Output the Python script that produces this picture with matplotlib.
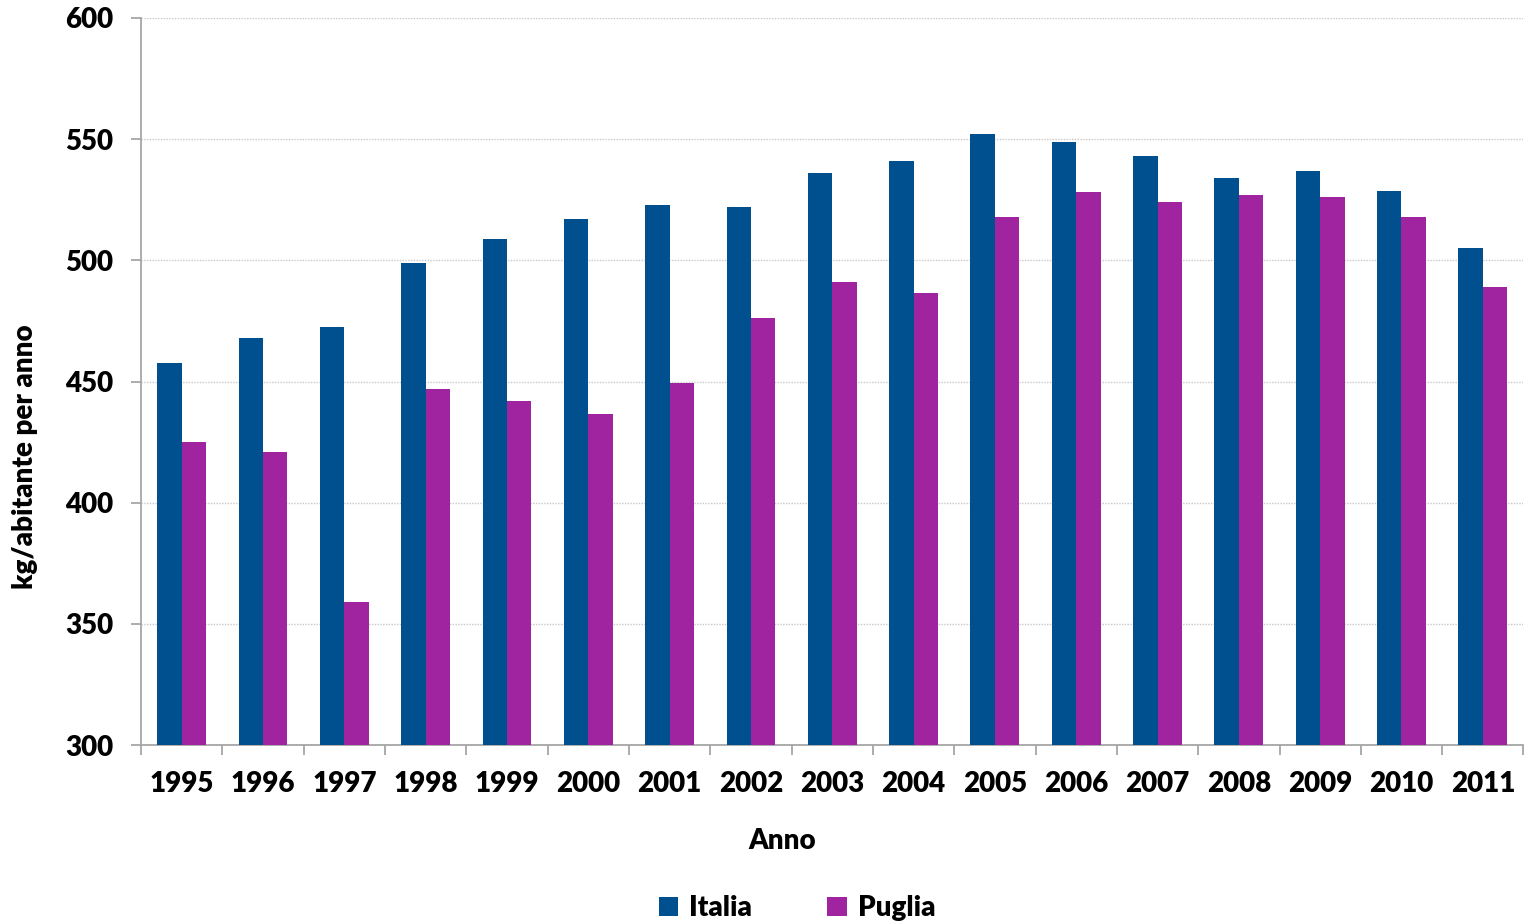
import numpy as np
import matplotlib
matplotlib.use('Agg')
import matplotlib.pyplot as plt
from matplotlib.ticker import FixedLocator

plt.rcParams['font.family'] = ['Lato', 'DejaVu Sans']
plt.rcParams['font.weight'] = 'heavy'

years = ['1995', '1996', '1997', '1998', '1999', '2000', '2001', '2002', '2003',
         '2004', '2005', '2006', '2007', '2008', '2009', '2010', '2011']
italia = [457.5, 468, 472.5, 499, 509, 517, 523, 522, 536,
          541, 552, 549, 543, 534, 537, 528.5, 505]
puglia = [425, 421, 359, 447, 442, 436.5, 449.5, 476, 491,
          486.5, 518, 528, 524, 527, 526, 518, 489]

c_it = '#00508F'
c_pu = '#A023A0'
fw = 'heavy'

fig = plt.figure(figsize=(15.25, 9.24), dpi=100)
ax = fig.add_axes([141/1525, 1 - 745/924, 1 - 141/1525 - 0.001, (745 - 18)/924])

x = np.arange(len(years))
w = 0.3
ax.bar(x - w/2, italia, w, color=c_it, label='Italia', zorder=3)
ax.bar(x + w/2, puglia, w, color=c_pu, label='Puglia', zorder=3)

ax.set_ylim(300, 600)
ax.set_xlim(-0.5, len(years) - 0.5)
ax.set_yticks(np.arange(300, 601, 50))
ax.set_xticks(x)
ax.set_xticklabels(years)
ax.xaxis.set_minor_locator(FixedLocator(np.arange(-0.5, len(years), 1)))
ax.tick_params(axis='x', which='major', length=0, pad=19, labelsize=20)
ax.tick_params(axis='x', which='minor', length=7, width=1.3, color='#A6A6A6')
ax.tick_params(axis='y', length=7, width=1.3, color='#A6A6A6', labelsize=20, pad=13)
for lab in ax.get_xticklabels() + ax.get_yticklabels():
    lab.set_fontweight(fw)

ax.grid(axis='y', color='#C8C8C8', linestyle=(0, (1, 1)), linewidth=1, zorder=0)
for s in ['top', 'right']:
    ax.spines[s].set_visible(False)
for s in ['left', 'bottom']:
    ax.spines[s].set_color('#A6A6A6')
    ax.spines[s].set_linewidth(1.3)

ax.set_xlabel('Anno', fontsize=20, fontweight=fw)
ax.xaxis.set_label_coords((783 - 141) / 1384, -(841 - 745) / 727, transform=ax.transAxes)
ax.xaxis.label.set_va('center')
ax.set_ylabel('kg/abitante per anno', fontsize=20, fontweight=fw)
ax.yaxis.set_label_coords(-(141 - 25) / 1384, (745 - 457) / 727, transform=ax.transAxes)
ax.yaxis.label.set_va('center')

leg = fig.legend(loc='center', bbox_to_anchor=(797 / 1525, 1 - 908/924), ncol=2, frameon=False,
                 fontsize=20, handlelength=0.7, handleheight=0.7, handletextpad=0.4,
                 columnspacing=2.7)
for t in leg.get_texts():
    t.set_fontweight(fw)

fig.savefig('out.png', dpi=100)
